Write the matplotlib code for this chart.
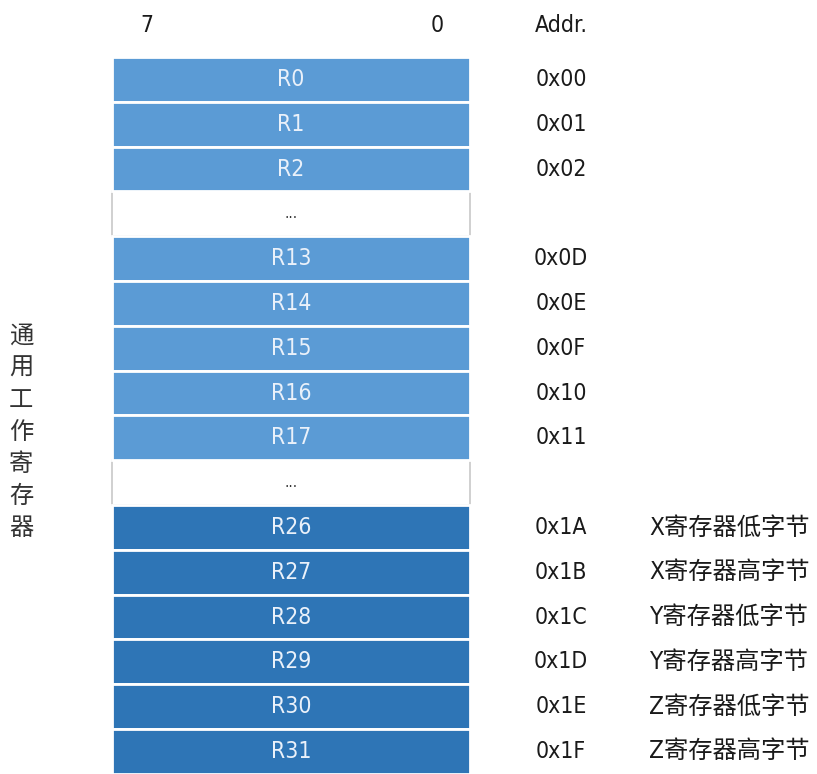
import matplotlib
matplotlib.use("Agg")
import matplotlib.pyplot as plt

# register rows, top to bottom
regs = ["R0", "R1", "R2", "...", "R13", "R14", "R15", "R16", "R17", "...",
        "R26", "R27", "R28", "R29", "R30", "R31"]
addrs = ["0x00", "0x01", "0x02", "", "0x0D", "0x0E", "0x0F", "0x10", "0x11", "",
         "0x1A", "0x1B", "0x1C", "0x1D", "0x1E", "0x1F"]
notes = ["", "", "", "", "", "", "", "", "", "",
         "X寄存器低字节", "X寄存器高字节", "Y寄存器低字节",
         "Y寄存器高字节", "Z寄存器低字节", "Z寄存器高字节"]
kinds = ["light"] * 3 + ["gap"] + ["light"] * 5 + ["gap"] + ["dark"] * 6
bit_labels = ["7", "0"]
col_header = "Addr."
side_label = "通用工作寄存器"

colors = {"light": "#5B9BD5", "dark": "#2E75B6", "gap": "#FFFFFF"}
latin = dict(family=["DejaVu Sans", "Noto Sans CJK SC"], fontstretch="condensed")

W, H = 817, 774
row_px = 44.8
top_px = 57
fig = plt.figure(figsize=(W / 100, H / 100), dpi=100)
ax = fig.add_axes([0, 0, 1, 1])
ax.set_xlim(0, W)
y_top = -0.5 - top_px / row_px
y_bot = y_top + H / row_px
ax.set_ylim(y_bot, y_top)
ax.axis("off")

x0, x1 = 112, 470
for i, (r, k) in enumerate(zip(regs, kinds)):
    if k == "gap":
        ax.barh(i, x1 - x0, left=x0, height=1, color="white",
                edgecolor="#C8C8C8", linewidth=1.2, zorder=1)
for i, (r, k) in enumerate(zip(regs, kinds)):
    if k != "gap":
        ax.barh(i, x1 - x0, left=x0, height=1, color=colors[k],
                edgecolor="white", linewidth=2, zorder=2)
    tc = "#333333" if k == "gap" else "#EAF1FA"
    fs = 11 if k == "gap" else 16.5
    ax.text((x0 + x1) / 2, i, r, ha="center", va="center", fontsize=fs,
            color=tc, zorder=3, **latin)

for i, a in enumerate(addrs):
    if a:
        ax.text(561, i, a, ha="center", va="center", fontsize=16.5,
                color="#1a1a1a", **latin)
for i, n in enumerate(notes):
    if n:
        ax.text(649, i, n, ha="left", va="center", fontsize=17.5,
                color="#1a1a1a", **latin)

hy = y_top + 25 / row_px
ax.text(147, hy, bit_labels[0], ha="center", va="center", fontsize=16.5,
        color="#1a1a1a", **latin)
ax.text(437, hy, bit_labels[1], ha="center", va="center", fontsize=16.5,
        color="#1a1a1a", **latin)
ax.text(561, hy, col_header, ha="center", va="center", fontsize=16.5,
        color="#1a1a1a", **latin)

ax.text(21, y_top + 432 / row_px, "\n".join(side_label), ha="center",
        va="center", fontsize=17.5, color="#333333", linespacing=1.3,
        family=["Noto Sans CJK SC"])

fig.savefig("out.png", dpi=100)
